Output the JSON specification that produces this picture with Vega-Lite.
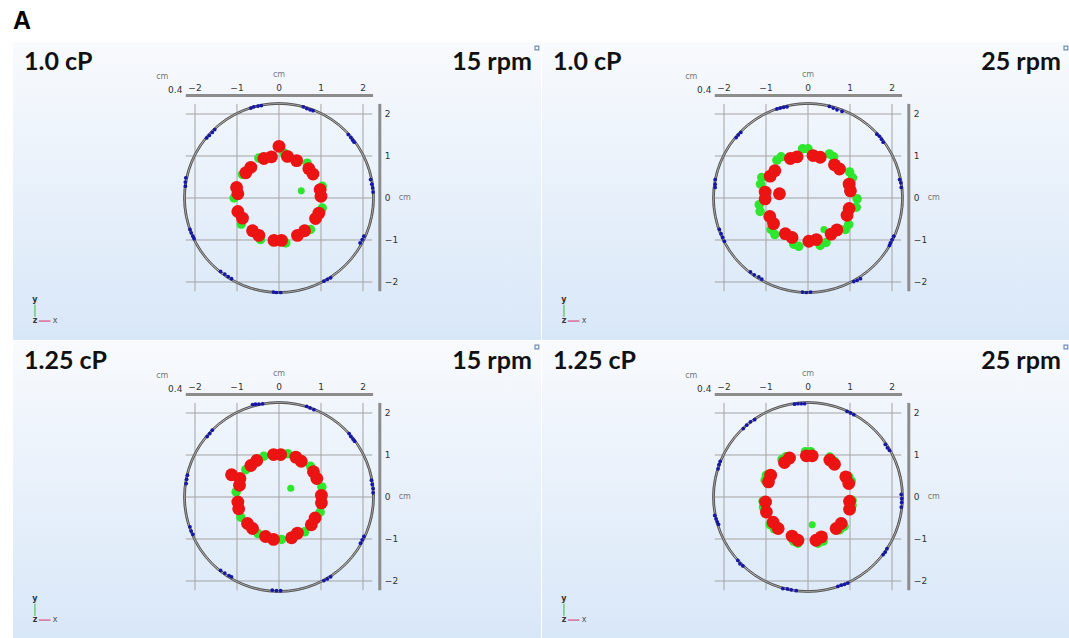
{
  "$schema": "https://vega.github.io/schema/vega-lite/v6.json",
  "padding": {"left": 13, "top": 9, "right": 0, "bottom": 0},
  "title": {"text": "A", "anchor": "start", "fontSize": 25, "font": "Liberation Sans", "fontWeight": "bold", "color": "#000", "offset": 8, "frame": "group"},
  "config": {
    "view": {"stroke": null, "fill": {"gradient": "linear", "x1": 0, "y1": 0, "x2": 0, "y2": 1, "stops": [{"offset": 0, "color": "#f8fafd"}, {"offset": 1, "color": "#d8e7f8"}]}},
    "header": {"labels": false, "title": null, "labelPadding": 0, "titlePadding": 0},
    "font": "DejaVu Sans"
  },
  "datasets": {
    "labs": [
      {"panel": 1, "visc": "1.0 cP", "rpm": "15 rpm"},
      {"panel": 2, "visc": "1.0 cP", "rpm": "25 rpm"},
      {"panel": 3, "visc": "1.25 cP", "rpm": "15 rpm"},
      {"panel": 4, "visc": "1.25 cP", "rpm": "25 rpm"}
    ],
    "d": [
      {"panel": 1, "kind": "lab"}, {"panel": 2, "kind": "lab"}, {"panel": 3, "kind": "lab"}, {"panel": 4, "kind": "lab"},
      {"panel": 1, "kind": "tick", "v": -2}, {"panel": 1, "kind": "tick", "v": -1}, {"panel": 1, "kind": "tick", "v": 0}, {"panel": 1, "kind": "tick", "v": 1}, {"panel": 1, "kind": "tick", "v": 2},
      {"panel": 2, "kind": "tick", "v": -2}, {"panel": 2, "kind": "tick", "v": -1}, {"panel": 2, "kind": "tick", "v": 0}, {"panel": 2, "kind": "tick", "v": 1}, {"panel": 2, "kind": "tick", "v": 2},
      {"panel": 3, "kind": "tick", "v": -2}, {"panel": 3, "kind": "tick", "v": -1}, {"panel": 3, "kind": "tick", "v": 0}, {"panel": 3, "kind": "tick", "v": 1}, {"panel": 3, "kind": "tick", "v": 2},
      {"panel": 4, "kind": "tick", "v": -2}, {"panel": 4, "kind": "tick", "v": -1}, {"panel": 4, "kind": "tick", "v": 0}, {"panel": 4, "kind": "tick", "v": 1}, {"panel": 4, "kind": "tick", "v": 2},

      {"panel": 1, "kind": "blue", "x": -0.67, "y": 2.14}, {"panel": 1, "kind": "blue", "x": -0.6, "y": 2.17}, {"panel": 1, "kind": "blue", "x": -0.5, "y": 2.19}, {"panel": 1, "kind": "blue", "x": -0.42, "y": 2.2},
      {"panel": 1, "kind": "blue", "x": 0.58, "y": 2.17}, {"panel": 1, "kind": "blue", "x": 0.66, "y": 2.13}, {"panel": 1, "kind": "blue", "x": 0.74, "y": 2.1}, {"panel": 1, "kind": "blue", "x": 0.81, "y": 2.08},
      {"panel": 1, "kind": "blue", "x": 1.65, "y": 1.51}, {"panel": 1, "kind": "blue", "x": 1.71, "y": 1.44}, {"panel": 1, "kind": "blue", "x": 1.75, "y": 1.38}, {"panel": 1, "kind": "blue", "x": 1.79, "y": 1.33},
      {"panel": 1, "kind": "blue", "x": 2.18, "y": 0.44}, {"panel": 1, "kind": "blue", "x": 2.21, "y": 0.33}, {"panel": 1, "kind": "blue", "x": 2.23, "y": 0.24}, {"panel": 1, "kind": "blue", "x": 2.24, "y": 0.14},
      {"panel": 1, "kind": "blue", "x": 2.02, "y": -0.91}, {"panel": 1, "kind": "blue", "x": 1.98, "y": -0.99}, {"panel": 1, "kind": "blue", "x": 1.93, "y": -1.07},
      {"panel": 1, "kind": "blue", "x": 1.23, "y": -1.9}, {"panel": 1, "kind": "blue", "x": 1.15, "y": -1.94}, {"panel": 1, "kind": "blue", "x": 1.07, "y": -1.98},
      {"panel": 1, "kind": "blue", "x": -0.13, "y": -2.24}, {"panel": 1, "kind": "blue", "x": -0.06, "y": -2.25}, {"panel": 1, "kind": "blue", "x": 0.04, "y": -2.25},
      {"panel": 1, "kind": "blue", "x": -1.39, "y": -1.75}, {"panel": 1, "kind": "blue", "x": -1.29, "y": -1.81}, {"panel": 1, "kind": "blue", "x": -1.21, "y": -1.87}, {"panel": 1, "kind": "blue", "x": -1.13, "y": -1.92},
      {"panel": 1, "kind": "blue", "x": -2.12, "y": -0.75}, {"panel": 1, "kind": "blue", "x": -2.09, "y": -0.83}, {"panel": 1, "kind": "blue", "x": -2.05, "y": -0.91}, {"panel": 1, "kind": "blue", "x": -2.02, "y": -0.97},
      {"panel": 1, "kind": "blue", "x": -2.22, "y": 0.48}, {"panel": 1, "kind": "blue", "x": -2.23, "y": 0.38}, {"panel": 1, "kind": "blue", "x": -2.23, "y": 0.28},
      {"panel": 1, "kind": "blue", "x": -1.72, "y": 1.43}, {"panel": 1, "kind": "blue", "x": -1.66, "y": 1.49}, {"panel": 1, "kind": "blue", "x": -1.59, "y": 1.56}, {"panel": 1, "kind": "blue", "x": -1.53, "y": 1.63},

      {"panel": 2, "kind": "blue", "x": -0.74, "y": 2.12}, {"panel": 2, "kind": "blue", "x": -0.66, "y": 2.14}, {"panel": 2, "kind": "blue", "x": -0.58, "y": 2.16}, {"panel": 2, "kind": "blue", "x": -0.5, "y": 2.17},
      {"panel": 2, "kind": "blue", "x": 0.51, "y": 2.18}, {"panel": 2, "kind": "blue", "x": 0.6, "y": 2.14}, {"panel": 2, "kind": "blue", "x": 0.69, "y": 2.1}, {"panel": 2, "kind": "blue", "x": 0.81, "y": 2.06},
      {"panel": 2, "kind": "blue", "x": 1.64, "y": 1.52}, {"panel": 2, "kind": "blue", "x": 1.7, "y": 1.47}, {"panel": 2, "kind": "blue", "x": 1.75, "y": 1.4}, {"panel": 2, "kind": "blue", "x": 1.79, "y": 1.33},
      {"panel": 2, "kind": "blue", "x": 2.18, "y": 0.44}, {"panel": 2, "kind": "blue", "x": 2.21, "y": 0.36}, {"panel": 2, "kind": "blue", "x": 2.22, "y": 0.25},
      {"panel": 2, "kind": "blue", "x": 2.04, "y": -0.91}, {"panel": 2, "kind": "blue", "x": 2.0, "y": -0.99}, {"panel": 2, "kind": "blue", "x": 1.96, "y": -1.07}, {"panel": 2, "kind": "blue", "x": 1.94, "y": -1.13},
      {"panel": 2, "kind": "blue", "x": 1.25, "y": -1.92}, {"panel": 2, "kind": "blue", "x": 1.17, "y": -1.96}, {"panel": 2, "kind": "blue", "x": 1.09, "y": -1.99},
      {"panel": 2, "kind": "blue", "x": -0.13, "y": -2.24}, {"panel": 2, "kind": "blue", "x": -0.04, "y": -2.25}, {"panel": 2, "kind": "blue", "x": 0.06, "y": -2.24},
      {"panel": 2, "kind": "blue", "x": -1.37, "y": -1.76}, {"panel": 2, "kind": "blue", "x": -1.28, "y": -1.83}, {"panel": 2, "kind": "blue", "x": -1.17, "y": -1.88}, {"panel": 2, "kind": "blue", "x": -1.1, "y": -1.93},
      {"panel": 2, "kind": "blue", "x": -2.11, "y": -0.75}, {"panel": 2, "kind": "blue", "x": -2.07, "y": -0.85}, {"panel": 2, "kind": "blue", "x": -2.03, "y": -0.94}, {"panel": 2, "kind": "blue", "x": -1.99, "y": -1.03},
      {"panel": 2, "kind": "blue", "x": -2.21, "y": 0.44}, {"panel": 2, "kind": "blue", "x": -2.21, "y": 0.33}, {"panel": 2, "kind": "blue", "x": -2.21, "y": 0.25},
      {"panel": 2, "kind": "blue", "x": -1.71, "y": 1.44}, {"panel": 2, "kind": "blue", "x": -1.66, "y": 1.5}, {"panel": 2, "kind": "blue", "x": -1.6, "y": 1.56},

      {"panel": 3, "kind": "blue", "x": -0.63, "y": 2.2}, {"panel": 3, "kind": "blue", "x": -0.56, "y": 2.21}, {"panel": 3, "kind": "blue", "x": -0.48, "y": 2.21}, {"panel": 3, "kind": "blue", "x": -0.39, "y": 2.22},
      {"panel": 3, "kind": "blue", "x": 0.66, "y": 2.16}, {"panel": 3, "kind": "blue", "x": 0.74, "y": 2.12}, {"panel": 3, "kind": "blue", "x": 0.83, "y": 2.08},
      {"panel": 3, "kind": "blue", "x": 1.67, "y": 1.51}, {"panel": 3, "kind": "blue", "x": 1.71, "y": 1.44}, {"panel": 3, "kind": "blue", "x": 1.76, "y": 1.38}, {"panel": 3, "kind": "blue", "x": 1.8, "y": 1.33},
      {"panel": 3, "kind": "blue", "x": 2.2, "y": 0.4}, {"panel": 3, "kind": "blue", "x": 2.22, "y": 0.3}, {"panel": 3, "kind": "blue", "x": 2.24, "y": 0.2}, {"panel": 3, "kind": "blue", "x": 2.24, "y": 0.1},
      {"panel": 3, "kind": "blue", "x": 2.02, "y": -0.94}, {"panel": 3, "kind": "blue", "x": 1.98, "y": -1.02}, {"panel": 3, "kind": "blue", "x": 1.94, "y": -1.1},
      {"panel": 3, "kind": "blue", "x": 1.23, "y": -1.9}, {"panel": 3, "kind": "blue", "x": 1.15, "y": -1.95}, {"panel": 3, "kind": "blue", "x": 1.07, "y": -1.99},
      {"panel": 3, "kind": "blue", "x": -0.16, "y": -2.22}, {"panel": 3, "kind": "blue", "x": -0.06, "y": -2.23}, {"panel": 3, "kind": "blue", "x": 0.04, "y": -2.23},
      {"panel": 3, "kind": "blue", "x": -1.39, "y": -1.75}, {"panel": 3, "kind": "blue", "x": -1.29, "y": -1.81}, {"panel": 3, "kind": "blue", "x": -1.19, "y": -1.87}, {"panel": 3, "kind": "blue", "x": -1.13, "y": -1.9},
      {"panel": 3, "kind": "blue", "x": -2.12, "y": -0.71}, {"panel": 3, "kind": "blue", "x": -2.09, "y": -0.81}, {"panel": 3, "kind": "blue", "x": -2.05, "y": -0.89},
      {"panel": 3, "kind": "blue", "x": -2.18, "y": 0.52}, {"panel": 3, "kind": "blue", "x": -2.2, "y": 0.42}, {"panel": 3, "kind": "blue", "x": -2.21, "y": 0.32},
      {"panel": 3, "kind": "blue", "x": -1.71, "y": 1.44}, {"panel": 3, "kind": "blue", "x": -1.65, "y": 1.51}, {"panel": 3, "kind": "blue", "x": -1.59, "y": 1.59},

      {"panel": 4, "kind": "blue", "x": -0.32, "y": 2.21}, {"panel": 4, "kind": "blue", "x": -0.24, "y": 2.22}, {"panel": 4, "kind": "blue", "x": -0.16, "y": 2.22}, {"panel": 4, "kind": "blue", "x": -0.08, "y": 2.22},
      {"panel": 4, "kind": "blue", "x": 0.93, "y": 2.04}, {"panel": 4, "kind": "blue", "x": 1.01, "y": 2.0}, {"panel": 4, "kind": "blue", "x": 1.09, "y": 1.96},
      {"panel": 4, "kind": "blue", "x": 1.84, "y": 1.25}, {"panel": 4, "kind": "blue", "x": 1.89, "y": 1.17}, {"panel": 4, "kind": "blue", "x": 1.94, "y": 1.11},
      {"panel": 4, "kind": "blue", "x": 2.22, "y": 0.06}, {"panel": 4, "kind": "blue", "x": 2.23, "y": -0.04}, {"panel": 4, "kind": "blue", "x": 2.23, "y": -0.13}, {"panel": 4, "kind": "blue", "x": 2.22, "y": -0.24},
      {"panel": 4, "kind": "blue", "x": 1.88, "y": -1.23}, {"panel": 4, "kind": "blue", "x": 1.84, "y": -1.31}, {"panel": 4, "kind": "blue", "x": 1.79, "y": -1.37},
      {"panel": 4, "kind": "blue", "x": 0.95, "y": -2.05}, {"panel": 4, "kind": "blue", "x": 0.87, "y": -2.08}, {"panel": 4, "kind": "blue", "x": 0.79, "y": -2.1}, {"panel": 4, "kind": "blue", "x": 0.71, "y": -2.13},
      {"panel": 4, "kind": "blue", "x": -0.6, "y": -2.18}, {"panel": 4, "kind": "blue", "x": -0.49, "y": -2.19}, {"panel": 4, "kind": "blue", "x": -0.4, "y": -2.21}, {"panel": 4, "kind": "blue", "x": -0.28, "y": -2.23},
      {"panel": 4, "kind": "blue", "x": -1.67, "y": -1.51}, {"panel": 4, "kind": "blue", "x": -1.62, "y": -1.59}, {"panel": 4, "kind": "blue", "x": -1.55, "y": -1.64},
      {"panel": 4, "kind": "blue", "x": -2.22, "y": -0.44}, {"panel": 4, "kind": "blue", "x": -2.19, "y": -0.52}, {"panel": 4, "kind": "blue", "x": -2.16, "y": -0.59}, {"panel": 4, "kind": "blue", "x": -2.13, "y": -0.65},
      {"panel": 4, "kind": "blue", "x": -2.14, "y": 0.67}, {"panel": 4, "kind": "blue", "x": -2.12, "y": 0.77}, {"panel": 4, "kind": "blue", "x": -2.09, "y": 0.85},
      {"panel": 4, "kind": "blue", "x": -1.54, "y": 1.63}, {"panel": 4, "kind": "blue", "x": -1.46, "y": 1.71}, {"panel": 4, "kind": "blue", "x": -1.37, "y": 1.79}, {"panel": 4, "kind": "blue", "x": -1.27, "y": 1.84},

      {"panel": 1, "kind": "green", "x": -0.48, "y": 0.95}, {"panel": 1, "kind": "green", "x": 0.12, "y": 1.07}, {"panel": 1, "kind": "green", "x": 0.67, "y": 0.83}, {"panel": 1, "kind": "green", "x": 1.03, "y": 0.28},
      {"panel": 1, "kind": "green", "x": 1.03, "y": -0.24}, {"panel": 1, "kind": "green", "x": 0.75, "y": -0.75}, {"panel": 1, "kind": "green", "x": 0.16, "y": -1.07}, {"panel": 1, "kind": "green", "x": -0.44, "y": -0.99},
      {"panel": 1, "kind": "green", "x": -0.9, "y": -0.62}, {"panel": 1, "kind": "green", "x": -1.07, "y": 0.0}, {"panel": 1, "kind": "green", "x": -0.87, "y": 0.56},
      {"panel": 1, "kind": "gsmall", "x": 0.53, "y": 0.17},

      {"panel": 2, "kind": "green", "x": -0.13, "y": 1.17}, {"panel": 2, "kind": "green", "x": 0.0, "y": 1.17}, {"panel": 2, "kind": "green", "x": 0.51, "y": 1.05}, {"panel": 2, "kind": "green", "x": 0.61, "y": 0.98},
      {"panel": 2, "kind": "green", "x": 0.99, "y": 0.62}, {"panel": 2, "kind": "green", "x": 1.06, "y": 0.48}, {"panel": 2, "kind": "green", "x": 1.17, "y": -0.02}, {"panel": 2, "kind": "green", "x": 1.15, "y": -0.22},
      {"panel": 2, "kind": "green", "x": 0.97, "y": -0.63}, {"panel": 2, "kind": "green", "x": 0.89, "y": -0.75}, {"panel": 2, "kind": "green", "x": 0.43, "y": -1.06}, {"panel": 2, "kind": "green", "x": 0.29, "y": -1.13},
      {"panel": 2, "kind": "green", "x": -0.22, "y": -1.15}, {"panel": 2, "kind": "green", "x": -0.34, "y": -1.1}, {"panel": 2, "kind": "green", "x": -0.88, "y": -0.75}, {"panel": 2, "kind": "green", "x": -0.79, "y": -0.87},
      {"panel": 2, "kind": "green", "x": -1.16, "y": -0.16}, {"panel": 2, "kind": "green", "x": -1.14, "y": -0.32}, {"panel": 2, "kind": "green", "x": -1.1, "y": 0.49}, {"panel": 2, "kind": "green", "x": -1.13, "y": 0.33},
      {"panel": 2, "kind": "green", "x": -0.74, "y": 0.9}, {"panel": 2, "kind": "green", "x": -0.64, "y": 0.98},
      {"panel": 2, "kind": "gsmall", "x": 0.38, "y": -0.75},

      {"panel": 3, "kind": "green", "x": 0.21, "y": 1.03}, {"panel": 3, "kind": "green", "x": -0.36, "y": 0.97}, {"panel": 3, "kind": "green", "x": 0.75, "y": 0.73}, {"panel": 3, "kind": "green", "x": 1.02, "y": 0.24},
      {"panel": 3, "kind": "green", "x": 0.98, "y": -0.36}, {"panel": 3, "kind": "green", "x": 0.61, "y": -0.83}, {"panel": 3, "kind": "green", "x": 0.06, "y": -1.01}, {"panel": 3, "kind": "green", "x": -0.5, "y": -0.87},
      {"panel": 3, "kind": "green", "x": -0.91, "y": -0.48}, {"panel": 3, "kind": "green", "x": -1.02, "y": 0.12}, {"panel": 3, "kind": "green", "x": -0.79, "y": 0.65},
      {"panel": 3, "kind": "gsmall", "x": 0.28, "y": 0.21},

      {"panel": 4, "kind": "green", "x": -0.06, "y": 1.08}, {"panel": 4, "kind": "green", "x": 0.06, "y": 1.08}, {"panel": 4, "kind": "green", "x": 0.52, "y": 0.95}, {"panel": 4, "kind": "green", "x": 0.62, "y": 0.86},
      {"panel": 4, "kind": "green", "x": 0.97, "y": 0.48}, {"panel": 4, "kind": "green", "x": 1.03, "y": 0.38}, {"panel": 4, "kind": "green", "x": 1.05, "y": -0.08}, {"panel": 4, "kind": "green", "x": 1.05, "y": -0.2},
      {"panel": 4, "kind": "green", "x": 0.86, "y": -0.7}, {"panel": 4, "kind": "green", "x": 0.76, "y": -0.78}, {"panel": 4, "kind": "green", "x": 0.36, "y": -1.05}, {"panel": 4, "kind": "green", "x": 0.24, "y": -1.1},
      {"panel": 4, "kind": "green", "x": -0.34, "y": -1.05}, {"panel": 4, "kind": "green", "x": -0.24, "y": -1.1}, {"panel": 4, "kind": "green", "x": -0.9, "y": -0.66}, {"panel": 4, "kind": "green", "x": -0.8, "y": -0.76},
      {"panel": 4, "kind": "green", "x": -1.07, "y": -0.1}, {"panel": 4, "kind": "green", "x": -1.06, "y": -0.24}, {"panel": 4, "kind": "green", "x": -0.99, "y": 0.52}, {"panel": 4, "kind": "green", "x": -1.02, "y": 0.4},
      {"panel": 4, "kind": "green", "x": -0.62, "y": 0.89}, {"panel": 4, "kind": "green", "x": -0.52, "y": 0.96},
      {"panel": 4, "kind": "gsmall", "x": 0.1, "y": -0.66},

      {"panel": 1, "kind": "red", "x": 0.0, "y": 1.23}, {"panel": 1, "kind": "red", "x": -0.36, "y": 0.94}, {"panel": 1, "kind": "red", "x": -0.18, "y": 0.98}, {"panel": 1, "kind": "red", "x": 0.2, "y": 0.99},
      {"panel": 1, "kind": "red", "x": 0.42, "y": 0.89}, {"panel": 1, "kind": "red", "x": 0.71, "y": 0.7}, {"panel": 1, "kind": "red", "x": 0.81, "y": 0.57}, {"panel": 1, "kind": "red", "x": 0.98, "y": 0.2},
      {"panel": 1, "kind": "red", "x": 1.0, "y": 0.04}, {"panel": 1, "kind": "red", "x": 0.95, "y": -0.36}, {"panel": 1, "kind": "red", "x": 0.87, "y": -0.49}, {"panel": 1, "kind": "red", "x": 0.61, "y": -0.78},
      {"panel": 1, "kind": "red", "x": 0.44, "y": -0.89}, {"panel": 1, "kind": "red", "x": -0.12, "y": -1.01}, {"panel": 1, "kind": "red", "x": 0.06, "y": -1.01}, {"panel": 1, "kind": "red", "x": -0.63, "y": -0.78},
      {"panel": 1, "kind": "red", "x": -0.48, "y": -0.89}, {"panel": 1, "kind": "red", "x": -0.98, "y": -0.32}, {"panel": 1, "kind": "red", "x": -0.87, "y": -0.48}, {"panel": 1, "kind": "red", "x": -1.01, "y": 0.25},
      {"panel": 1, "kind": "red", "x": -0.98, "y": 0.1}, {"panel": 1, "kind": "red", "x": -0.79, "y": 0.6}, {"panel": 1, "kind": "red", "x": -0.67, "y": 0.73},

      {"panel": 2, "kind": "red", "x": -0.42, "y": 0.94}, {"panel": 2, "kind": "red", "x": -0.26, "y": 0.98}, {"panel": 2, "kind": "red", "x": 0.12, "y": 1.01}, {"panel": 2, "kind": "red", "x": 0.29, "y": 0.97},
      {"panel": 2, "kind": "red", "x": 0.63, "y": 0.79}, {"panel": 2, "kind": "red", "x": 0.75, "y": 0.69}, {"panel": 2, "kind": "red", "x": 0.98, "y": 0.33}, {"panel": 2, "kind": "red", "x": 1.01, "y": 0.17},
      {"panel": 2, "kind": "red", "x": 0.98, "y": -0.25}, {"panel": 2, "kind": "red", "x": 0.93, "y": -0.41}, {"panel": 2, "kind": "red", "x": 0.69, "y": -0.76}, {"panel": 2, "kind": "red", "x": 0.55, "y": -0.86},
      {"panel": 2, "kind": "red", "x": 0.02, "y": -1.03}, {"panel": 2, "kind": "red", "x": 0.2, "y": -0.99}, {"panel": 2, "kind": "red", "x": -0.54, "y": -0.85}, {"panel": 2, "kind": "red", "x": -0.38, "y": -0.94},
      {"panel": 2, "kind": "red", "x": -0.91, "y": -0.44}, {"panel": 2, "kind": "red", "x": -0.82, "y": -0.61}, {"panel": 2, "kind": "red", "x": -1.02, "y": 0.14}, {"panel": 2, "kind": "red", "x": -1.02, "y": -0.02},
      {"panel": 2, "kind": "red", "x": -0.9, "y": 0.52}, {"panel": 2, "kind": "red", "x": -0.79, "y": 0.65}, {"panel": 2, "kind": "red", "x": -0.68, "y": 0.1},

      {"panel": 3, "kind": "red", "x": -0.13, "y": 1.01}, {"panel": 3, "kind": "red", "x": 0.04, "y": 1.01}, {"panel": 3, "kind": "red", "x": 0.4, "y": 0.95}, {"panel": 3, "kind": "red", "x": 0.53, "y": 0.85},
      {"panel": 3, "kind": "red", "x": 0.82, "y": 0.6}, {"panel": 3, "kind": "red", "x": 0.9, "y": 0.44}, {"panel": 3, "kind": "red", "x": 1.01, "y": 0.04}, {"panel": 3, "kind": "red", "x": 1.01, "y": -0.14},
      {"panel": 3, "kind": "red", "x": 0.86, "y": -0.5}, {"panel": 3, "kind": "red", "x": 0.77, "y": -0.66}, {"panel": 3, "kind": "red", "x": 0.44, "y": -0.86}, {"panel": 3, "kind": "red", "x": 0.3, "y": -0.97},
      {"panel": 3, "kind": "red", "x": -0.32, "y": -0.94}, {"panel": 3, "kind": "red", "x": -0.13, "y": -1.01}, {"panel": 3, "kind": "red", "x": -0.75, "y": -0.63}, {"panel": 3, "kind": "red", "x": -0.63, "y": -0.75},
      {"panel": 3, "kind": "red", "x": -0.98, "y": -0.12}, {"panel": 3, "kind": "red", "x": -0.96, "y": -0.28}, {"panel": 3, "kind": "red", "x": -0.93, "y": 0.44}, {"panel": 3, "kind": "red", "x": -0.94, "y": 0.28},
      {"panel": 3, "kind": "red", "x": -0.67, "y": 0.75}, {"panel": 3, "kind": "red", "x": -0.53, "y": 0.87}, {"panel": 3, "kind": "red", "x": -1.13, "y": 0.53},

      {"panel": 4, "kind": "red", "x": -0.04, "y": 0.98}, {"panel": 4, "kind": "red", "x": 0.1, "y": 0.98}, {"panel": 4, "kind": "red", "x": 0.52, "y": 0.88}, {"panel": 4, "kind": "red", "x": 0.63, "y": 0.78},
      {"panel": 4, "kind": "red", "x": 0.9, "y": 0.48}, {"panel": 4, "kind": "red", "x": 0.97, "y": 0.32}, {"panel": 4, "kind": "red", "x": 0.99, "y": -0.1}, {"panel": 4, "kind": "red", "x": 0.99, "y": -0.29},
      {"panel": 4, "kind": "red", "x": 0.79, "y": -0.63}, {"panel": 4, "kind": "red", "x": 0.67, "y": -0.75}, {"panel": 4, "kind": "red", "x": 0.32, "y": -0.95}, {"panel": 4, "kind": "red", "x": 0.19, "y": -1.03},
      {"panel": 4, "kind": "red", "x": -0.38, "y": -0.93}, {"panel": 4, "kind": "red", "x": -0.24, "y": -1.03}, {"panel": 4, "kind": "red", "x": -0.83, "y": -0.6}, {"panel": 4, "kind": "red", "x": -0.71, "y": -0.75},
      {"panel": 4, "kind": "red", "x": -1.01, "y": -0.12}, {"panel": 4, "kind": "red", "x": -0.99, "y": -0.36}, {"panel": 4, "kind": "red", "x": -0.89, "y": 0.52}, {"panel": 4, "kind": "red", "x": -0.94, "y": 0.36},
      {"panel": 4, "kind": "red", "x": -0.56, "y": 0.82}, {"panel": 4, "kind": "red", "x": -0.44, "y": 0.93}
    ]
  },
  "data": {"name": "d"},
  "transform": [{"lookup": "panel", "from": {"data": {"name": "labs"}, "key": "panel", "fields": ["visc", "rpm"]}}],
  "facet": {
    "row": {"field": "visc", "type": "nominal", "header": null},
    "column": {"field": "rpm", "type": "nominal", "header": null}
  },
  "spacing": {"row": 1, "column": 0},
  "spec": {
    "width": 528,
    "height": 298,
    "layer": [
      {"transform": [{"filter": "datum.kind === 'tick'"}], "mark": {"type": "rule", "color": "#a3a3a3", "strokeWidth": 1},
       "encoding": {"x": {"field": "v", "type": "quantitative", "scale": {"domain": [-6.333, 6.238], "nice": false}, "axis": null},
                    "y": {"datum": -2.22, "type": "quantitative", "scale": {"domain": [-3.381, 3.714], "nice": false}, "axis": null}, "y2": {"datum": 2.24}}},
      {"transform": [{"filter": "datum.kind === 'tick'"}], "mark": {"type": "rule", "color": "#a3a3a3", "strokeWidth": 1},
       "encoding": {"y": {"field": "v", "type": "quantitative", "scale": {"domain": [-3.381, 3.714], "nice": false}, "axis": null},
                    "x": {"datum": -2.22, "type": "quantitative", "scale": {"domain": [-6.333, 6.238], "nice": false}, "axis": null}, "x2": {"datum": 2.22}}},
      {"transform": [{"filter": "datum.kind === 'lab'"}], "mark": {"type": "point", "shape": "circle", "filled": false, "size": 35721, "stroke": "#b4b4b4", "strokeWidth": 2.5, "opacity": 1},
       "encoding": {"x": {"datum": 0, "type": "quantitative", "scale": {"domain": [-6.333, 6.238], "nice": false}, "axis": null},
                    "y": {"datum": 0, "type": "quantitative", "scale": {"domain": [-3.381, 3.714], "nice": false}, "axis": null}}},
      {"transform": [{"filter": "datum.kind === 'lab'"}], "mark": {"type": "point", "shape": "circle", "filled": false, "size": 36359, "stroke": "#4a4a4a", "strokeWidth": 0.9, "opacity": 1},
       "encoding": {"x": {"datum": 0, "type": "quantitative", "scale": {"domain": [-6.333, 6.238], "nice": false}, "axis": null},
                    "y": {"datum": 0, "type": "quantitative", "scale": {"domain": [-3.381, 3.714], "nice": false}, "axis": null}}},
      {"transform": [{"filter": "datum.kind === 'lab'"}], "mark": {"type": "point", "shape": "circle", "filled": false, "size": 35085, "stroke": "#4a4a4a", "strokeWidth": 0.9, "opacity": 1},
       "encoding": {"x": {"datum": 0, "type": "quantitative", "scale": {"domain": [-6.333, 6.238], "nice": false}, "axis": null},
                    "y": {"datum": 0, "type": "quantitative", "scale": {"domain": [-3.381, 3.714], "nice": false}, "axis": null}}},
      {"transform": [{"filter": "datum.kind === 'lab'"}], "mark": {"type": "rule", "color": "#8c8c8c", "strokeWidth": 3},
       "encoding": {"x": {"datum": -2.22, "type": "quantitative", "scale": {"domain": [-6.333, 6.238], "nice": false}, "axis": null}, "x2": {"datum": 2.24},
                    "y": {"datum": 2.44, "type": "quantitative", "scale": {"domain": [-3.381, 3.714], "nice": false}, "axis": null}}},
      {"transform": [{"filter": "datum.kind === 'lab'"}], "mark": {"type": "rule", "color": "#8c8c8c", "strokeWidth": 3},
       "encoding": {"x": {"datum": 2.4, "type": "quantitative", "scale": {"domain": [-6.333, 6.238], "nice": false}, "axis": null},
                    "y": {"datum": -2.22, "type": "quantitative", "scale": {"domain": [-3.381, 3.714], "nice": false}, "axis": null}, "y2": {"datum": 2.24}}},
      {"transform": [{"filter": "datum.kind === 'tick'"}], "mark": {"type": "text", "fontSize": 9, "color": "#333", "baseline": "middle", "align": "center"},
       "encoding": {"x": {"field": "v", "type": "quantitative", "scale": {"domain": [-6.333, 6.238], "nice": false}, "axis": null},
                    "y": {"datum": 2.62, "type": "quantitative", "scale": {"domain": [-3.381, 3.714], "nice": false}, "axis": null},
                    "text": {"field": "v", "type": "quantitative"}}},
      {"transform": [{"filter": "datum.kind === 'tick'"}], "mark": {"type": "text", "fontSize": 9, "color": "#333", "baseline": "middle", "align": "left"},
       "encoding": {"y": {"field": "v", "type": "quantitative", "scale": {"domain": [-3.381, 3.714], "nice": false}, "axis": null},
                    "x": {"datum": 2.52, "type": "quantitative", "scale": {"domain": [-6.333, 6.238], "nice": false}, "axis": null},
                    "text": {"field": "v", "type": "quantitative"}}},
      {"transform": [{"filter": "datum.kind === 'lab'"}], "mark": {"type": "text", "fontSize": 8, "color": "#777", "baseline": "middle", "align": "center", "text": "cm"},
       "encoding": {"x": {"datum": 0, "type": "quantitative", "scale": {"domain": [-6.333, 6.238], "nice": false}, "axis": null},
                    "y": {"datum": 2.93, "type": "quantitative", "scale": {"domain": [-3.381, 3.714], "nice": false}, "axis": null}}},
      {"transform": [{"filter": "datum.kind === 'lab'"}], "mark": {"type": "text", "fontSize": 8, "color": "#777", "baseline": "middle", "align": "center", "text": "cm"},
       "encoding": {"x": {"datum": -2.78, "type": "quantitative", "scale": {"domain": [-6.333, 6.238], "nice": false}, "axis": null},
                    "y": {"datum": 2.87, "type": "quantitative", "scale": {"domain": [-3.381, 3.714], "nice": false}, "axis": null}}},
      {"transform": [{"filter": "datum.kind === 'lab'"}], "mark": {"type": "text", "fontSize": 9, "color": "#333", "baseline": "middle", "align": "right", "text": "0.4"},
       "encoding": {"x": {"datum": -2.3, "type": "quantitative", "scale": {"domain": [-6.333, 6.238], "nice": false}, "axis": null},
                    "y": {"datum": 2.56, "type": "quantitative", "scale": {"domain": [-3.381, 3.714], "nice": false}, "axis": null}}},
      {"transform": [{"filter": "datum.kind === 'lab'"}], "mark": {"type": "text", "fontSize": 8, "color": "#777", "baseline": "middle", "align": "left", "text": "cm"},
       "encoding": {"x": {"datum": 2.85, "type": "quantitative", "scale": {"domain": [-6.333, 6.238], "nice": false}, "axis": null},
                    "y": {"datum": 0, "type": "quantitative", "scale": {"domain": [-3.381, 3.714], "nice": false}, "axis": null}}},
      {"transform": [{"filter": "datum.kind === 'blue'"}], "mark": {"type": "point", "shape": "circle", "filled": true, "size": 14, "color": "#1717a6", "opacity": 1},
       "encoding": {"x": {"field": "x", "type": "quantitative", "scale": {"domain": [-6.333, 6.238], "nice": false}, "axis": null},
                    "y": {"field": "y", "type": "quantitative", "scale": {"domain": [-3.381, 3.714], "nice": false}, "axis": null}}},
      {"transform": [{"filter": "datum.kind === 'green'"}], "mark": {"type": "point", "shape": "circle", "filled": true, "size": 90, "color": "#2ee62e", "opacity": 1},
       "encoding": {"x": {"field": "x", "type": "quantitative", "scale": {"domain": [-6.333, 6.238], "nice": false}, "axis": null},
                    "y": {"field": "y", "type": "quantitative", "scale": {"domain": [-3.381, 3.714], "nice": false}, "axis": null}}},
      {"transform": [{"filter": "datum.kind === 'gsmall'"}], "mark": {"type": "point", "shape": "circle", "filled": true, "size": 50, "color": "#2ee62e", "opacity": 1},
       "encoding": {"x": {"field": "x", "type": "quantitative", "scale": {"domain": [-6.333, 6.238], "nice": false}, "axis": null},
                    "y": {"field": "y", "type": "quantitative", "scale": {"domain": [-3.381, 3.714], "nice": false}, "axis": null}}},
      {"transform": [{"filter": "datum.kind === 'red'"}], "mark": {"type": "point", "shape": "circle", "filled": true, "size": 165, "color": "#ec1313", "opacity": 1},
       "encoding": {"x": {"field": "x", "type": "quantitative", "scale": {"domain": [-6.333, 6.238], "nice": false}, "axis": null},
                    "y": {"field": "y", "type": "quantitative", "scale": {"domain": [-3.381, 3.714], "nice": false}, "axis": null}}},
      {"transform": [{"filter": "datum.kind === 'lab'"}], "mark": {"type": "text", "font": "Lato", "fontWeight": "bold", "fontSize": 25, "color": "#111", "baseline": "alphabetic", "align": "left"},
       "encoding": {"x": {"datum": -6.07, "type": "quantitative", "scale": {"domain": [-6.333, 6.238], "nice": false}, "axis": null},
                    "y": {"datum": 3.05, "type": "quantitative", "scale": {"domain": [-3.381, 3.714], "nice": false}, "axis": null},
                    "text": {"field": "visc"}}},
      {"transform": [{"filter": "datum.kind === 'lab'"}], "mark": {"type": "text", "font": "Lato", "fontWeight": "bold", "fontSize": 25, "color": "#111", "baseline": "alphabetic", "align": "right"},
       "encoding": {"x": {"datum": 6.02, "type": "quantitative", "scale": {"domain": [-6.333, 6.238], "nice": false}, "axis": null},
                    "y": {"datum": 3.05, "type": "quantitative", "scale": {"domain": [-3.381, 3.714], "nice": false}, "axis": null},
                    "text": {"field": "rpm"}}},
      {"transform": [{"filter": "datum.kind === 'lab'"}], "mark": {"type": "point", "shape": "square", "filled": false, "size": 14, "stroke": "#6f8fb5", "strokeWidth": 1.2, "opacity": 1},
       "encoding": {"x": {"datum": 6.14, "type": "quantitative", "scale": {"domain": [-6.333, 6.238], "nice": false}, "axis": null},
                    "y": {"datum": 3.57, "type": "quantitative", "scale": {"domain": [-3.381, 3.714], "nice": false}, "axis": null}}},
      {"transform": [{"filter": "datum.kind === 'lab'"}], "mark": {"type": "rule", "color": "#3cb83c", "strokeWidth": 1},
       "encoding": {"x": {"datum": -5.81, "type": "quantitative", "scale": {"domain": [-6.333, 6.238], "nice": false}, "axis": null},
                    "y": {"datum": -2.83, "type": "quantitative", "scale": {"domain": [-3.381, 3.714], "nice": false}, "axis": null}, "y2": {"datum": -2.54}}},
      {"transform": [{"filter": "datum.kind === 'lab'"}], "mark": {"type": "rule", "color": "#d8306a", "strokeWidth": 1},
       "encoding": {"x": {"datum": -5.72, "type": "quantitative", "scale": {"domain": [-6.333, 6.238], "nice": false}, "axis": null}, "x2": {"datum": -5.44},
                    "y": {"datum": -2.93, "type": "quantitative", "scale": {"domain": [-3.381, 3.714], "nice": false}, "axis": null}}},
      {"transform": [{"filter": "datum.kind === 'lab'"}], "mark": {"type": "text", "fontSize": 8, "fontWeight": "bold", "color": "#333", "baseline": "middle", "align": "center", "text": "y"},
       "encoding": {"x": {"datum": -5.81, "type": "quantitative", "scale": {"domain": [-6.333, 6.238], "nice": false}, "axis": null},
                    "y": {"datum": -2.44, "type": "quantitative", "scale": {"domain": [-3.381, 3.714], "nice": false}, "axis": null}}},
      {"transform": [{"filter": "datum.kind === 'lab'"}], "mark": {"type": "text", "fontSize": 8, "fontWeight": "bold", "color": "#333", "baseline": "middle", "align": "center", "text": "z"},
       "encoding": {"x": {"datum": -5.81, "type": "quantitative", "scale": {"domain": [-6.333, 6.238], "nice": false}, "axis": null},
                    "y": {"datum": -2.93, "type": "quantitative", "scale": {"domain": [-3.381, 3.714], "nice": false}, "axis": null}}},
      {"transform": [{"filter": "datum.kind === 'lab'"}], "mark": {"type": "text", "fontSize": 8, "color": "#555", "baseline": "middle", "align": "center", "text": "x"},
       "encoding": {"x": {"datum": -5.33, "type": "quantitative", "scale": {"domain": [-6.333, 6.238], "nice": false}, "axis": null},
                    "y": {"datum": -2.93, "type": "quantitative", "scale": {"domain": [-3.381, 3.714], "nice": false}, "axis": null}}}
    ]
  }
}
